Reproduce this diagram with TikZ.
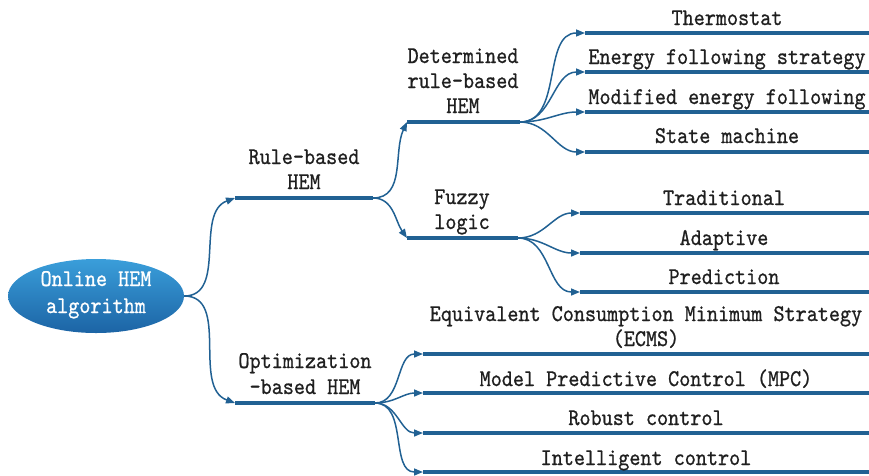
\documentclass[tikz,border=0pt]{standalone}
\usepackage{fontspec}
\usetikzlibrary{arrows.meta,shapes.geometric}
\newfontfamily\lblfont{lmmono10-regular.otf}[FakeStretch=0.88,FakeBold=0.8]
\definecolor{barblue}{RGB}{33,97,147}
\definecolor{rootlight}{RGB}{58,158,218}
\definecolor{rootdark}{RGB}{28,100,165}
\begin{document}
\begin{tikzpicture}[x=1pt,y=-1pt,
  bar/.style={draw=barblue,line width=4pt},
  link/.style={draw=barblue,line width=1.5pt,-{Triangle[length=9pt,width=7pt]}},
  lbl/.style={anchor=base,inner sep=0pt,text=black!88,
    font={\lblfont\fontsize{24}{28}\selectfont}}]
\useasboundingbox (0,0) rectangle (869,475);

% root ellipse
\node[ellipse,minimum width=176pt,minimum height=74pt,inner sep=0pt,
  top color=rootlight,bottom color=rootdark,draw=none] (root) at (96,296) {};
\node[lbl,text=white] (rootA) at (96,286) {Online HEM};
\node[lbl,text=white] (rootB) at (96,313) {algorithm};

% bar end points
\coordinate (rbL) at (235,198);  \coordinate (rbR) at (373,198);
\coordinate (opL) at (235,403);  \coordinate (opR) at (375,403);
\coordinate (dtL) at (407,122);  \coordinate (dtR) at (520,122);
\coordinate (fzL) at (407,238);  \coordinate (fzR) at (518,238);
\coordinate (t1L) at (585,33);   \coordinate (t1R) at (869,33);
\coordinate (t2L) at (585,72);   \coordinate (t2R) at (869,72);
\coordinate (t3L) at (585,112);  \coordinate (t3R) at (869,112);
\coordinate (t4L) at (585,152);  \coordinate (t4R) at (869,152);
\coordinate (f1L) at (580,213);  \coordinate (f1R) at (869,213);
\coordinate (f2L) at (580,253);  \coordinate (f2R) at (869,253);
\coordinate (f3L) at (580,292);  \coordinate (f3R) at (869,292);
\coordinate (o1L) at (423,354);  \coordinate (o1R) at (869,354);
\coordinate (o2L) at (423,393);  \coordinate (o2R) at (869,393);
\coordinate (o3L) at (423,433);  \coordinate (o3R) at (869,433);
\coordinate (o4L) at (423,472);  \coordinate (o4R) at (869,472);

% bars
\foreach \b in {rb,op,dt,fz,t1,t2,t3,t4,f1,f2,f3,o1,o2,o3,o4}
  \draw[bar] (\b L) -- (\b R);

% connectors
\draw[link] (root.east) to[out=0,in=200] (rbL);
\draw[link] (root.east) to[out=0,in=160] (opL);
\draw[link] (rbR) to[out=0,in=245] (dtL);
\draw[link] (rbR) to[out=0,in=125] (fzL);
\foreach \t in {t1,t2,t3,t4} \draw[link] (dtR) to[out=0,in=180] (\t L);
\foreach \t in {f1,f2,f3} \draw[link] (fzR) to[out=0,in=180] (\t L);
\foreach \t in {o1,o2,o3,o4} \draw[link] (opR) to[out=0,in=180] (\t L);

% labels
\node[lbl] (rbA) at (304,164) {Rule-based};
\node[lbl] (rbB) at (304,189) {HEM};
\node[lbl] (opA) at (305,368) {Optimization};
\node[lbl] (opB) at (305,394) {-based HEM};
\node[lbl] (dtA) at (463,63) {Determined};
\node[lbl] (dtB) at (463,88) {rule-based};
\node[lbl] (dtC) at (463,113) {HEM};
\node[lbl] (fzA) at (462,204) {Fuzzy};
\node[lbl] (fzB) at (462,229) {logic};
\node[lbl] (t1T) at (727,25) {Thermostat};
\node[lbl] (t2T) at (727,64) {Energy following strategy};
\node[lbl] (t3T) at (727,104) {Modified energy following};
\node[lbl] (t4T) at (727,143) {State machine};
\node[lbl] (f1T) at (724,205) {Traditional};
\node[lbl] (f2T) at (724,245) {Adaptive};
\node[lbl] (f3T) at (724,284) {Prediction};
\node[lbl] (o1T) at (646,321) {Equivalent Consumption Minimum Strategy};
\node[lbl] (o1U) at (646,346) {(ECMS)};
\node[lbl] (o2T) at (646,386) {Model Predictive Control (MPC)};
\node[lbl] (o3T) at (646,425) {Robust control};
\node[lbl] (o4T) at (646,465) {Intelligent control};
\end{tikzpicture}
\end{document}
